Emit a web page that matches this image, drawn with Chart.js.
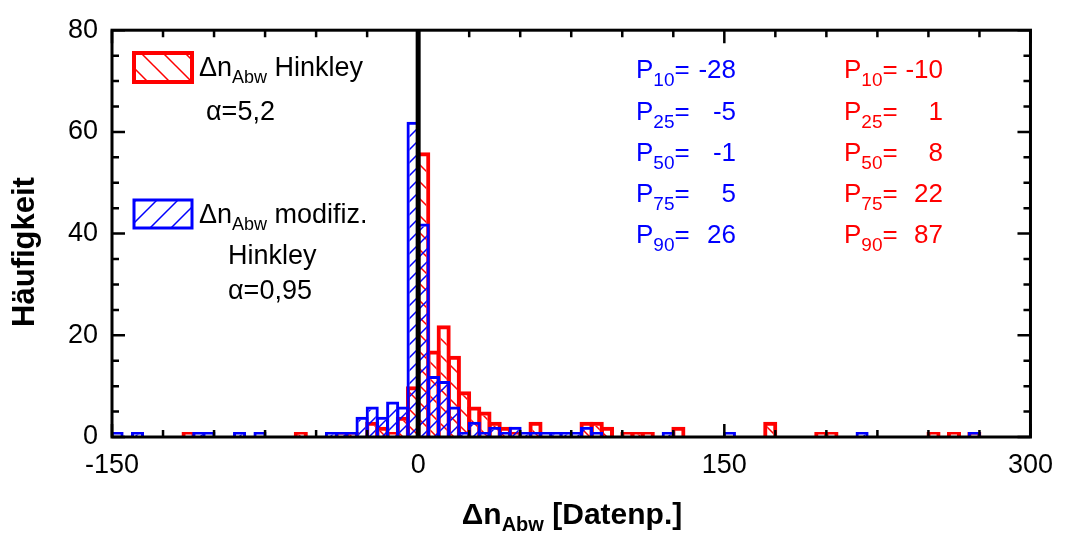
<!DOCTYPE html>
<html>
<head>
<meta charset="utf-8">
<script src="https://cdn.jsdelivr.net/npm/chart.js@4/dist/chart.umd.min.js"></script>
<style>
  html, body { margin: 0; padding: 0; background: #fff; }
  #wrap { width: 1065px; height: 539px; }
</style>
</head>
<body>
<div id="wrap"><canvas id="histChart" width="1065" height="539"></canvas></div>
<script>
// bin start (width 5) and counts
const hinkleyBins   = [-115, -60, -40, -35, -25, -20, -15, -10, -5, 0, 5, 10, 15, 20, 25, 30, 35, 40, 45, 55, 80, 85, 90, 100, 105, 110, 125, 170, 195, 200, 250, 260, 270];
const hinkleyCounts = [1, 1, 1, 1, 3, 2, 1, 4, 10, 56, 17, 22, 16, 9, 6, 5, 3, 2, 1, 3, 3, 3, 2, 1, 1, 1, 2, 3, 1, 1, 1, 1, 1];

const modBins   = [-150, -140, -110, -105, -90, -80, -45, -40, -35, -30, -25, -20, -15, -10, -5, 0, 5, 10, 15, 20, 25, 30, 35, 40, 45, 50, 55, 60, 65, 70, 75, 80, 85, 120, 150, 215, 270];
const modCounts = [1, 1, 1, 1, 1, 1, 1, 1, 1, 4, 6, 4, 7, 6, 62, 42, 12, 11, 6, 1, 3, 1, 2, 1, 2, 1, 1, 1, 1, 1, 1, 2, 1, 1, 1, 1, 1];

const binWidth = 5;
const xTickLabels = [-150, 0, 150, 300];
const yTickLabels = [0, 20, 40, 60, 80];

const percNames = ['10', '25', '50', '75', '90'];
const percMod = ['-28', '-5', '-1', '5', '26'];
const percHinkley = ['-10', '1', '8', '22', '87'];

const RED = '#ff0000';
const BLUE = '#0000ff';
const FONT = '"Liberation Sans", Arial, sans-serif';

function hatch(color, dir, size, lw) {
    const c = document.createElement('canvas');
    c.width = size; c.height = size;
    const g = c.getContext('2d');
    g.strokeStyle = color;
    g.lineWidth = lw;
    g.beginPath();
    if (dir === '/') {
        g.moveTo(0, size); g.lineTo(size, 0);
        g.moveTo(-2, 2); g.lineTo(2, -2);
        g.moveTo(size - 2, size + 2); g.lineTo(size + 2, size - 2);
    } else {
        g.moveTo(0, 0); g.lineTo(size, size);
        g.moveTo(size - 2, -2); g.lineTo(size + 2, 2);
        g.moveTo(-2, size - 2); g.lineTo(2, size + 2);
    }
    g.stroke();
    return g.createPattern(c, 'repeat');
}

function toPoints(bins, counts) {
    return bins.map((b, i) => ({ x: b + binWidth / 2, y: counts[i] }));
}

// draws a row of text pieces; sub pieces are smaller and lowered
function drawParts(ctx, x, y, parts, color) {
    ctx.fillStyle = color;
    ctx.textAlign = 'left';
    ctx.textBaseline = 'alphabetic';
    let cx = x;
    parts.forEach(p => {
        ctx.font = (p.bold ? 'bold ' : '') + p.size + 'px ' + FONT;
        ctx.fillText(p.t, cx, y + (p.dy || 0));
        cx += ctx.measureText(p.t).width;
    });
    return cx;
}

function legendBox(ctx, x, y, w, h, color, pattern, lw) {
    ctx.save();
    ctx.fillStyle = pattern;
    ctx.fillRect(x, y, w, h);
    ctx.strokeStyle = color;
    ctx.lineWidth = lw;
    ctx.strokeRect(x, y, w, h);
    ctx.restore();
}

const redPattern = hatch(RED, '\\', 17, 1.5);
const bluePattern = hatch(BLUE, '/', 13, 1.5);
const redLegendPattern = hatch(RED, '\\', 22, 1.5);
const blueLegendPattern = hatch(BLUE, '/', 21, 1.5);

const decorPlugin = {
    id: 'decor',
    afterDatasetsDraw(chart) {
        const ctx = chart.ctx;
        const xs = chart.scales.x, a = chart.chartArea;
        ctx.save();
        ctx.strokeStyle = '#000';
        ctx.lineWidth = 5;
        ctx.beginPath();
        ctx.moveTo(xs.getPixelForValue(0), a.top);
        ctx.lineTo(xs.getPixelForValue(0), a.bottom);
        ctx.stroke();
        ctx.restore();
    },
    afterDraw(chart) {
        const ctx = chart.ctx;
        const xs = chart.scales.x, ys = chart.scales.y, a = chart.chartArea;
        ctx.save();
        // frame
        ctx.strokeStyle = '#000';
        ctx.lineWidth = 3;
        ctx.strokeRect(a.left, a.top, a.right - a.left, a.bottom - a.top);
        // inward ticks on all sides
        ctx.lineWidth = 2.5;
        ctx.beginPath();
        for (let v = -150; v <= 300; v += 25) {
            const px = xs.getPixelForValue(v);
            const len = v % 150 === 0 ? 13 : 7;
            ctx.moveTo(px, a.bottom); ctx.lineTo(px, a.bottom - len);
            ctx.moveTo(px, a.top); ctx.lineTo(px, a.top + len);
        }
        for (let v = 0; v <= 80; v += 5) {
            const py = ys.getPixelForValue(v);
            const len = v % 20 === 0 ? 13 : 7;
            ctx.moveTo(a.left, py); ctx.lineTo(a.left + len, py);
            ctx.moveTo(a.right, py); ctx.lineTo(a.right - len, py);
        }
        ctx.stroke();

        // legend
        legendBox(ctx, 134, 53, 58, 29, RED, redLegendPattern, 4);
        drawParts(ctx, 199, 76, [
            { t: 'Δn', size: 27 }, { t: 'Abw', size: 18, dy: 7 }, { t: ' Hinkley', size: 27 }
        ], '#000');
        drawParts(ctx, 206, 120, [{ t: 'α=5,2', size: 27 }], '#000');

        legendBox(ctx, 134, 200, 58, 28, BLUE, blueLegendPattern, 3);
        drawParts(ctx, 199, 223, [
            { t: 'Δn', size: 27 }, { t: 'Abw', size: 18, dy: 7 }, { t: ' modifiz.', size: 27 }
        ], '#000');
        drawParts(ctx, 228, 264, [{ t: 'Hinkley', size: 27 }], '#000');
        drawParts(ctx, 228, 299, [{ t: 'α=0,95', size: 27 }], '#000');

        // percentiles
        const rows = [78, 120, 161, 202, 243];
        const cols = [
            { x: 636, right: 736, vals: percMod, color: BLUE },
            { x: 844, right: 943, vals: percHinkley, color: RED }
        ];
        cols.forEach(col => {
            percNames.forEach((n, i) => {
                drawParts(ctx, col.x, rows[i], [
                    { t: 'P', size: 26 }, { t: n, size: 19, dy: 8 }, { t: '=', size: 26 }
                ], col.color);
                ctx.font = '26px ' + FONT;
                ctx.textAlign = 'right';
                ctx.fillText(col.vals[i], col.right, rows[i]);
            });
        });

        // axis titles
        ctx.fillStyle = '#000';
        ctx.save();
        ctx.translate(34, 252);
        ctx.rotate(-Math.PI / 2);
        ctx.font = 'bold 31px ' + FONT;
        ctx.textAlign = 'center';
        ctx.textBaseline = 'alphabetic';
        ctx.fillText('Häufigkeit', 0, 0);
        ctx.restore();

        const parts = [
            { t: 'Δn', size: 30, bold: true }, { t: 'Abw', size: 20, bold: true, dy: 7 },
            { t: ' [Datenp.]', size: 30, bold: true }
        ];
        let w = 0;
        parts.forEach(p => { ctx.font = 'bold ' + p.size + 'px ' + FONT; w += ctx.measureText(p.t).width; });
        drawParts(ctx, 572 - w / 2, 524, parts, '#000');
        ctx.restore();
    }
};

const ctx = document.getElementById('histChart').getContext('2d');

const histChart = new Chart(ctx, {
    type: 'bar',
    data: {
        datasets: [{
            label: 'Δn Abw modifiz. Hinkley',
            data: toPoints(modBins, modCounts),
            backgroundColor: bluePattern,
            borderColor: BLUE,
            borderWidth: 3,
            grouped: false,
            barPercentage: 1.28,
            categoryPercentage: 1
        }, {
            label: 'Δn Abw Hinkley',
            data: toPoints(hinkleyBins, hinkleyCounts),
            backgroundColor: redPattern,
            borderColor: RED,
            borderWidth: 4,
            grouped: false,
            barPercentage: 1.38,
            categoryPercentage: 1
        }]
    },
    options: {
        responsive: false,
        animation: false,
        layout: { padding: { left: 0, right: 33, top: 24, bottom: 0 } },
        plugins: {
            legend: { display: false },
            tooltip: { enabled: false }
        },
        scales: {
            x: {
                type: 'linear',
                offset: false,
                min: -150,
                max: 300,
                afterBuildTicks: (s) => { s.ticks = xTickLabels.map(v => ({ value: v })); },
                afterFit: (s) => { s.height = 102; },
                grid: { display: false, drawTicks: false },
                border: { display: false },
                ticks: {
                    color: '#000',
                    padding: 12,
                    font: { size: 27, family: FONT }
                }
            },
            y: {
                min: 0,
                max: 80,
                afterBuildTicks: (s) => { s.ticks = yTickLabels.map(v => ({ value: v })); },
                afterFit: (s) => { s.width = 112; },
                grid: { display: false, drawTicks: false },
                border: { display: false },
                ticks: {
                    color: '#000',
                    padding: 14,
                    font: { size: 27, family: FONT }
                }
            }
        }
    },
    plugins: [decorPlugin]
});
</script>
</body>
</html>
